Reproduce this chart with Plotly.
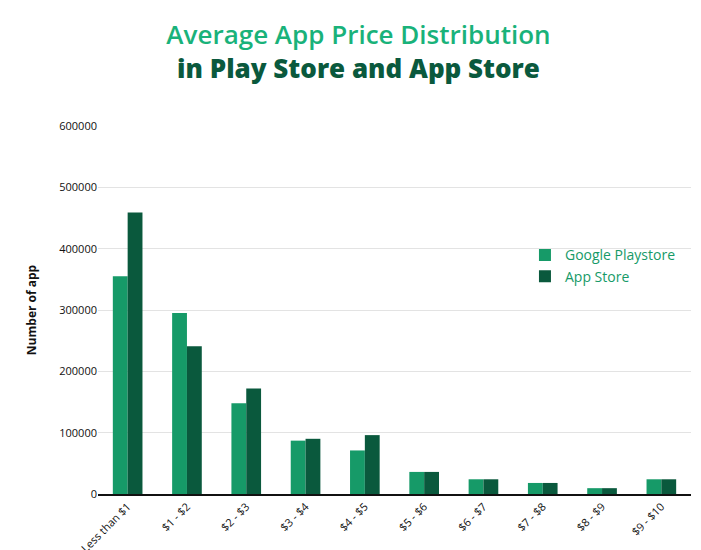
import plotly.graph_objects as go

categories = ["Less than $1", "$1 - $2", "$2 - $3", "$3 - $4", "$4 - $5",
              "$5 - $6", "$6 - $7", "$7 - $8", "$8 - $9", "$9 - $10"]
google_playstore = [355000, 295000, 148000, 87000, 71000, 36000, 24000, 18000, 9500, 24000]
app_store = [459000, 241000, 172000, 90000, 96000, 36000, 24000, 18000, 9500, 24000]
y_ticks = [0, 100000, 200000, 300000, 400000, 500000, 600000]

fig = go.Figure()
fig.add_bar(x=categories, y=google_playstore, name="Google Playstore",
            marker=dict(color="#169a68", line=dict(width=0)))
fig.add_bar(x=categories, y=app_store, name="App Store",
            marker=dict(color="#0a593d", line=dict(width=0)))

fig.update_layout(
    width=701, height=550,
    paper_bgcolor="white", plot_bgcolor="white",
    font=dict(family="Open Sans, sans-serif", size=12, color="#111"),
    title=dict(
        text="<span style='color:#19b27a;font-weight:600'>Average App Price Distribution</span><br>"
             "<span style='color:#0a593d;font-weight:800'>in Play Store and App Store</span>",
        x=0.5, xanchor="center", y=0.935, yanchor="top",
        font=dict(size=26, family="Open Sans, sans-serif")),
    margin=dict(l=90, r=18, t=118, b=64),
    barmode="group", bargap=0.5, bargroupgap=0,
    legend=dict(x=0.72, y=0.62, xanchor="left", yanchor="middle",
                font=dict(size=14, color="#169a68"), bgcolor="rgba(0,0,0,0)",
                itemsizing="constant"),
    xaxis=dict(tickangle=-45, tickfont=dict(size=11, color="#111"), automargin=False,
               showline=True, linecolor="#111", linewidth=2, ticks=""),
    yaxis=dict(range=[0, 600000], tickvals=y_ticks, tickformat="d",
               gridcolor="#e3e3e3", zeroline=False,
               tickfont=dict(size=11, color="#111"),
               title=dict(text="<b>Number of app</b>", font=dict(size=12), standoff=20)),
)

fig.write_html("out.html")
